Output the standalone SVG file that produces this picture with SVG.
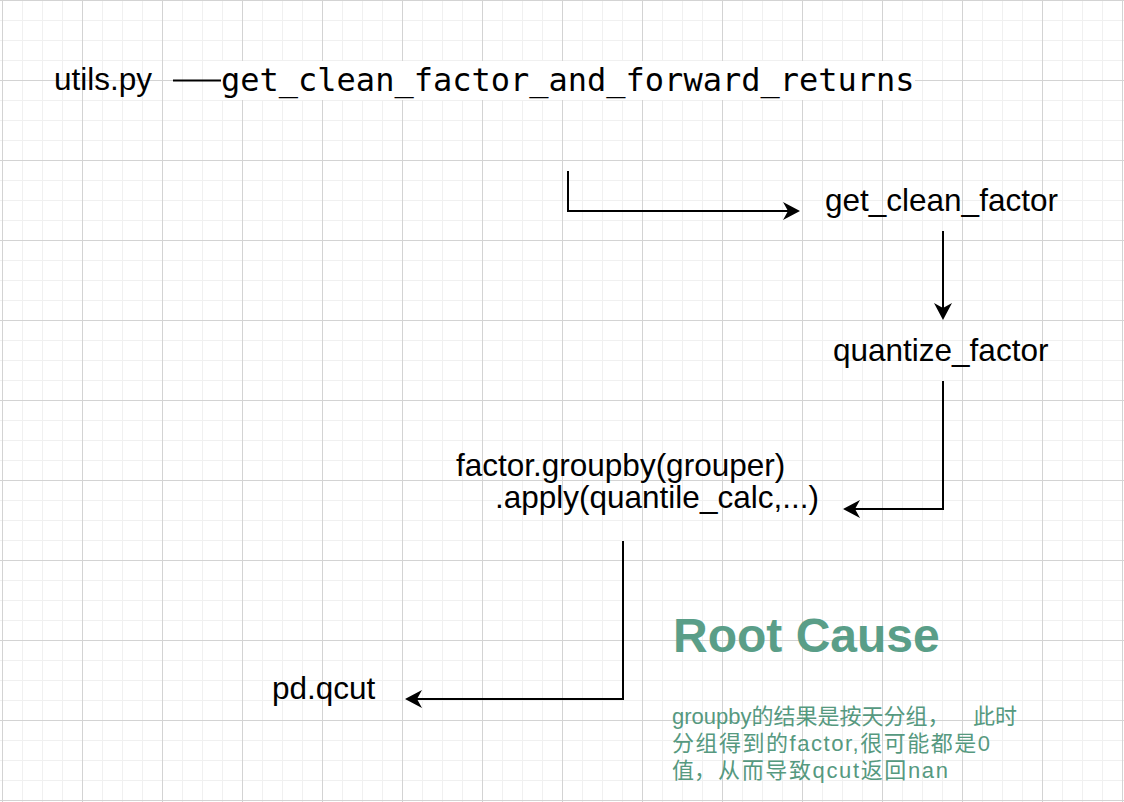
<svg xmlns="http://www.w3.org/2000/svg" width="1124" height="802" viewBox="0 0 1124 802">
  <style>
    .lbl { font-family: "Liberation Sans", Arial, Helvetica, sans-serif; font-size: 31.5px; fill: #000; }
    .mono { font-family: "DejaVu Sans Mono", "Liberation Mono", monospace; font-size: 32px; fill: #000; }
    .title { font-family: "Liberation Sans", Arial, sans-serif; font-size: 48px; font-weight: bold; fill: #5a9e88; }
    .note { font-family: "Liberation Sans", Arial, "Noto Sans CJK SC", sans-serif; font-size: 22px; fill: #56997f; }
    .conn { fill: none; stroke: #000; stroke-width: 2; }
  </style>
  <defs>
    <pattern id="minor" x="2" y="0" width="20" height="20" patternUnits="userSpaceOnUse">
      <path d="M0.5,0V20M0,0.5H20" stroke="#f0f0f0" stroke-width="1" fill="none"/>
    </pattern>
    <pattern id="major" x="2" y="0" width="80" height="80" patternUnits="userSpaceOnUse">
      <path d="M0.5,0V80M0,0.5H80" stroke="#d3d3d3" stroke-width="1" fill="none"/>
    </pattern>
    <marker id="arrow" viewBox="-18 -10 28 20" refX="-8" refY="0" markerWidth="28" markerHeight="20" markerUnits="userSpaceOnUse" orient="auto">
      <path d="M0,0 L-17,-9 L-12,0 L-17,9 Z" fill="#000"/>
    </marker>
  </defs>

  <g id="background">
    <rect x="0" y="0" width="1124" height="802" fill="#fff"/>
    <rect x="0" y="0" width="1124" height="802" fill="url(#minor)"/>
    <rect x="0" y="0" width="1124" height="802" fill="url(#major)"/>
  </g>

  <g id="connectors">
    <path class="conn" d="M173,80.5 H221" stroke-width="1.5"/>
    <path class="conn" d="M568,171 V211 H792" marker-end="url(#arrow)"/>
    <path class="conn" d="M943,231 V312" marker-end="url(#arrow)"/>
    <path class="conn" d="M943,381 V509 H851" marker-end="url(#arrow)"/>
    <path class="conn" d="M623,541 V699 H413" marker-end="url(#arrow)"/>
  </g>

  <g id="node-utils">
    <text class="lbl" x="54" y="90">utils.py</text>
  </g>

  <g id="node-get-clean-factor-and-forward-returns">
    <rect x="221" y="61" width="694" height="39" fill="#fff"/>
    <text class="mono" x="221" y="91">get_clean_factor_and_forward_returns</text>
  </g>

  <g id="node-get-clean-factor">
    <text class="lbl" x="825" y="211">get_clean_factor</text>
  </g>

  <g id="node-quantize-factor">
    <text class="lbl" x="833" y="361">quantize_factor</text>
  </g>

  <g id="node-groupby-apply">
    <text class="lbl" x="456" y="476">factor.groupby(grouper)</text>
    <text class="lbl" x="495" y="508">.apply(quantile_calc,...)</text>
  </g>

  <g id="node-pd-qcut">
    <text class="lbl" x="272" y="699">pd.qcut</text>
  </g>

  <g id="node-root-cause">
    <text class="title" x="673" y="652">Root Cause</text>
    <text class="note" x="672" y="724">groupby的结果是按天分组，<tspan x="973">此时</tspan></text>
    <text class="note" x="672" y="751" textLength="318" lengthAdjust="spacing">分组得到的factor,很可能都是0</text>
    <text class="note" x="672" y="778">值，<tspan x="718" textLength="230" lengthAdjust="spacing">从而导致qcut返回nan</tspan></text>
  </g>
</svg>
